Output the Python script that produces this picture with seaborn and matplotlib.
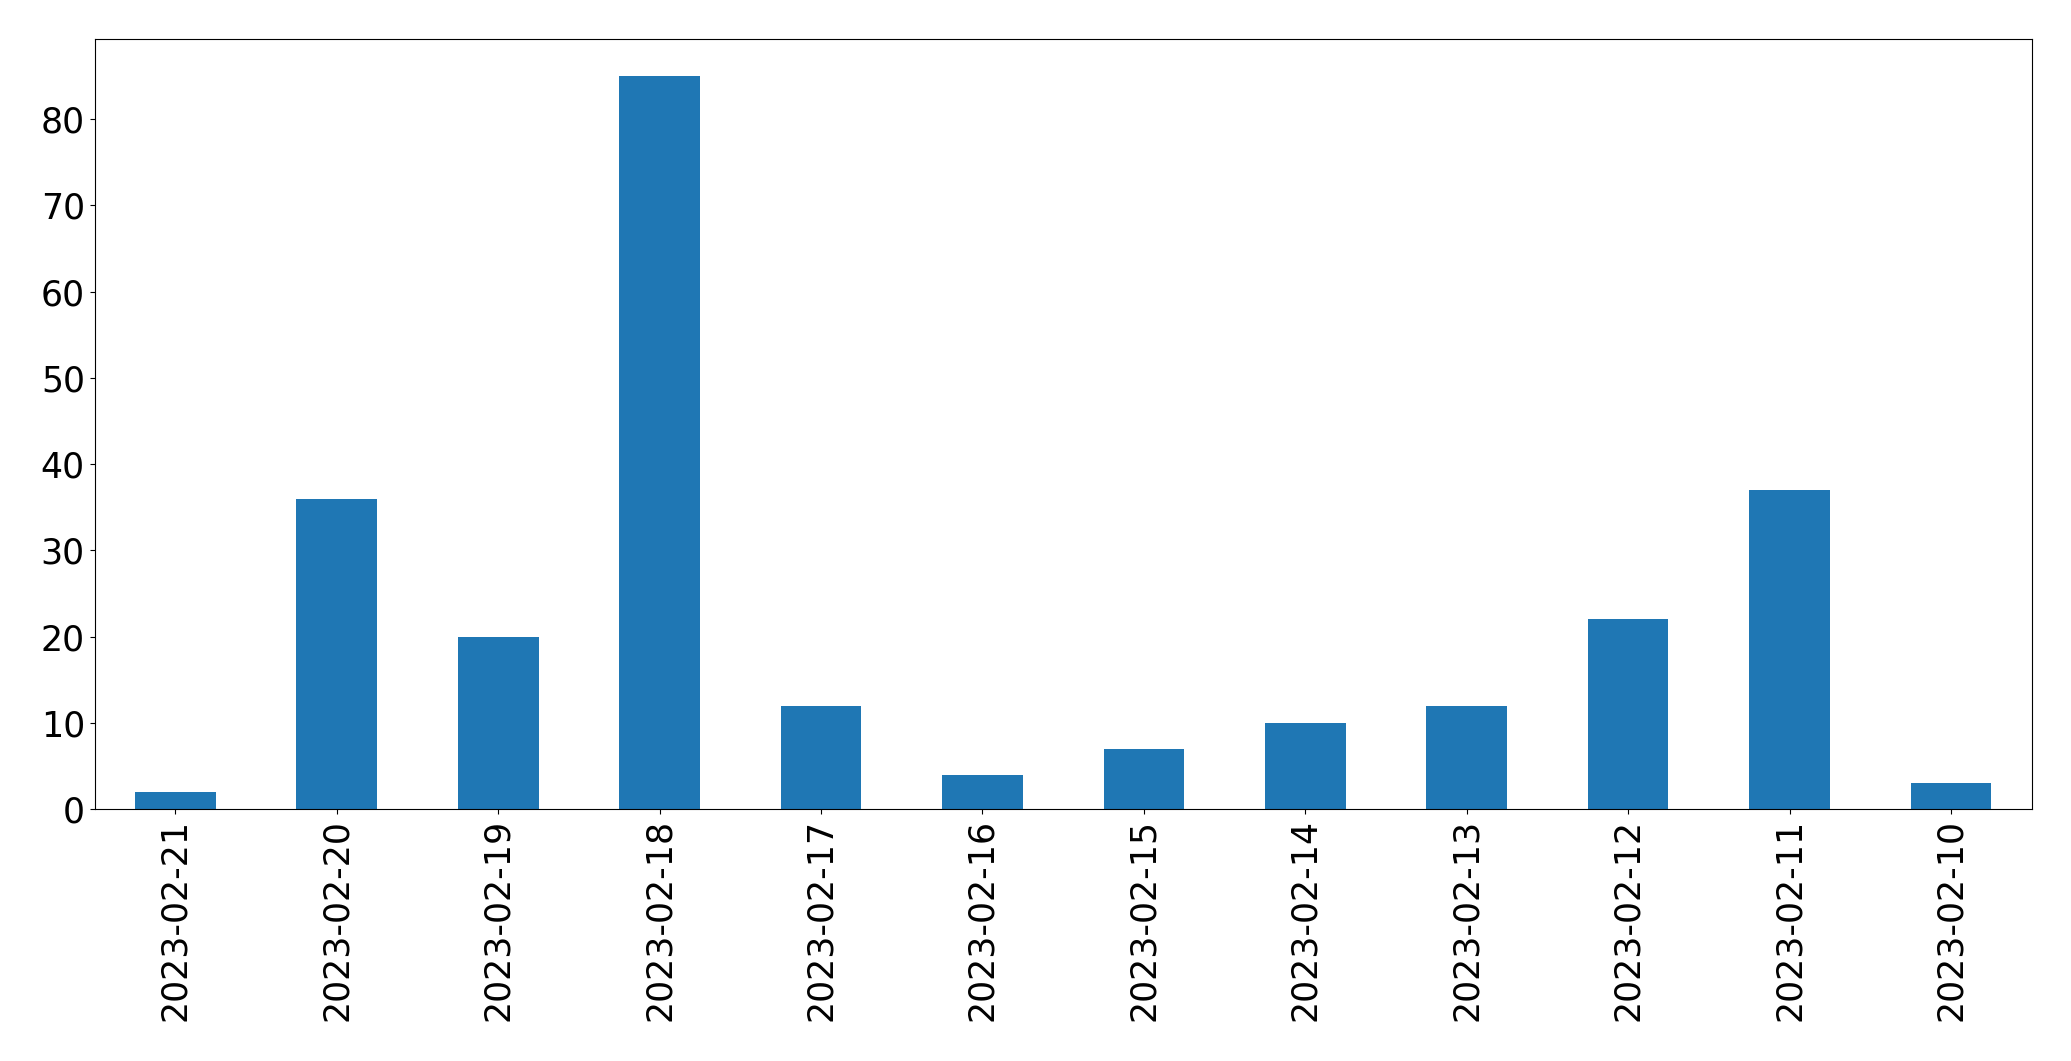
import matplotlib
matplotlib.use("Agg")
import matplotlib.pyplot as plt
import seaborn as sns
import pandas as pd

# --- Dados ---
dates = ['2023-02-21', '2023-02-20', '2023-02-19', '2023-02-18', '2023-02-17', '2023-02-16',
         '2023-02-15', '2023-02-14', '2023-02-13', '2023-02-12', '2023-02-11', '2023-02-10']
counts = [2, 36, 20, 85, 12, 4, 7, 10, 12, 22, 37, 3]

df = pd.DataFrame({'date': dates, 'count': counts})

# estilo matplotlib padrão (texto preto, sem grade)
plt.rcdefaults()
plt.rcParams['font.family'] = ['DejaVu Sans']

fig = plt.figure(figsize=(20.71, 10.61), dpi=100)
ax = fig.add_axes([0.0457, 0.2375, 0.9353, 0.7253])

sns.barplot(x='date', y='count', data=df, order=dates, color='#1f77b4',
            saturation=1, width=0.5, linewidth=0, ax=ax)

ax.set_xlim(-0.5, len(dates) - 0.5)
ax.set_ylim(0, max(counts) * 1.05)
ax.set_xlabel('')
ax.set_ylabel('')
ax.tick_params(axis='x', labelrotation=90, labelsize=25, colors='black')
ax.tick_params(axis='y', labelsize=25, colors='black')

fig.savefig('out.png', dpi=100)
